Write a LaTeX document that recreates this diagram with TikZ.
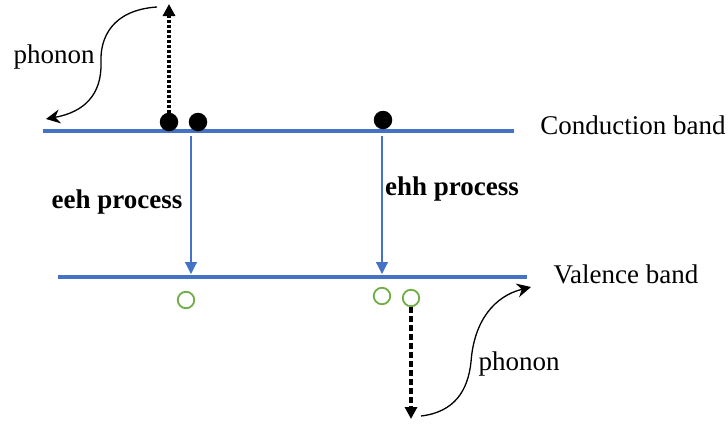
\documentclass[tikz,border=0pt]{standalone}
\usepackage{fontspec}
\setmainfont{Liberation Serif}
\newfontfamily\labelserif{Liberation Serif}
\usetikzlibrary{arrows.meta}
\definecolor{bandblue}{HTML}{4472C4}
\definecolor{holegreen}{HTML}{70AD47}
\tikzset{
  band/.style={draw=bandblue, line width=4pt},
  electron/.style={circle, fill=black, inner sep=0pt, minimum size=18.5pt},
  hole/.style={circle, draw=holegreen, line width=1.8pt, inner sep=0pt, minimum size=16.5pt},
  decay/.style={draw=bandblue, line width=1.2pt, -{Triangle[width=12pt,length=12pt]}},
  phononarrow/.style={line width=1.3pt, -{Stealth[width=14pt,length=14pt]}},
  lbl/.style={font=\labelserif\fontsize{27}{30}\selectfont, inner sep=0pt, anchor=base},
  boldlbl/.style={lbl, font=\labelserif\fontsize{27}{30}\selectfont\bfseries},
}
\begin{document}
\begin{tikzpicture}[x=1pt,y=-1pt]
\useasboundingbox (0,0) rectangle (728,423);

% energy bands
\coordinate (cbL) at (43,131);
\coordinate (cbR) at (514,131);
\coordinate (vbL) at (58,277);
\coordinate (vbR) at (527,277);
\draw[band] (cbL) -- (cbR);
\draw[band] (vbL) -- (vbR);
\node[lbl] (cblabel) at (633,134) {Conduction band};
\node[lbl] (vblabel) at (626,283) {Valence band};

% electrons in the conduction band
\node[electron] (e1) at (169,122) {};
\node[electron] (e2) at (198,122) {};
\node[electron] (e3) at (383,120) {};

% holes in the valence band
\node[hole] (h1) at (186,300) {};
\node[hole] (h2) at (382,296) {};
\node[hole] (h3) at (411,298) {};

% recombination transitions
\coordinate (t1a) at (191,136);
\coordinate (t1b) at (191,274);
\coordinate (t2a) at (382,136);
\coordinate (t2b) at (382,274);
\draw[decay] (t1a) -- (t1b);
\draw[decay] (t2a) -- (t2b);
\node[boldlbl] (eeh) at (117,208) {eeh process};
\node[boldlbl] (ehh) at (452,195) {ehh process};

% hot electron excited upward, relaxing by phonon emission
\coordinate (etop) at (169,4);
\draw[line width=3.2pt, dash pattern=on 2.5pt off 2.5pt, -{Triangle[width=12pt,length=12pt]}] (e1.north) -- (etop);
\coordinate (pl0) at (157,7);
\coordinate (pl1) at (46,119);
\draw[phononarrow] (pl0) .. controls (112,10) and (100,38) .. (101,62)
                         .. controls (102,95) and (84,112) .. (pl1);
\node[lbl] (ph1) at (54,63) {phonon};

% hot hole pushed downward, relaxing by phonon emission
\coordinate (hbot) at (411,419);
\draw[line width=3.2pt, dash pattern=on 6pt off 3pt, -{Triangle[width=12pt,length=12pt]}] (h3.south) -- (hbot);
\coordinate (pr0) at (421,416);
\coordinate (pr1) at (531,287);
\draw[phononarrow] (pr0) .. controls (455,412) and (468,390) .. (471,362)
                         .. controls (474,320) and (495,296) .. (pr1);
\node[lbl] (ph2) at (519,370) {phonon};
\end{tikzpicture}
\end{document}
